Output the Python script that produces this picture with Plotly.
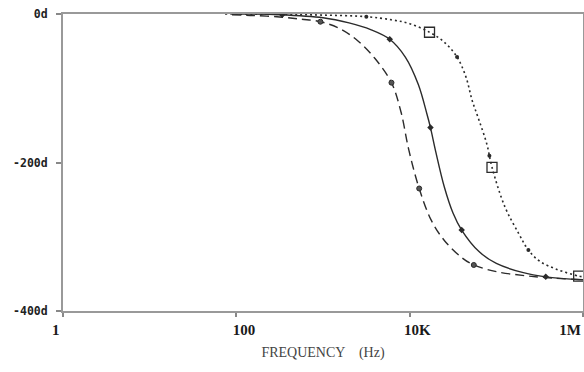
import numpy as np
import plotly.graph_objects as go

# ---- data (log10 of frequency in Hz, phase in degrees) ----
solid_logf = [1.95, 2.5, 3.0, 3.3, 3.55, 3.77, 3.95, 4.1, 4.2, 4.24, 4.3, 4.4, 4.5, 4.6, 4.8, 5.0, 5.3, 5.57, 6.0]
solid_deg = [0, -1, -5, -12, -21, -34, -58, -95, -135, -153, -185, -233, -268, -291, -320, -336, -348, -354, -358]

dashed_logf = [1.95, 2.2, 2.5, 2.75, 2.97, 3.2, 3.4, 3.6, 3.79, 3.9, 3.99, 4.11, 4.25, 4.4, 4.6, 4.74, 5.0, 5.3, 5.57, 6.0]
dashed_deg = [-1, -2, -4, -7, -10.4, -20, -36, -60, -92.5, -132, -183, -235, -278, -305, -328, -338, -347, -352, -355, -358]

dotted_logf = [1.87, 2.5, 3.0, 3.5, 3.8, 4.0, 4.229, 4.4, 4.547, 4.65, 4.72, 4.8, 4.89, 4.95, 5.1, 5.26, 5.37, 5.5, 5.7, 5.95, 6.0]
dotted_deg = [0, -0.5, -1.5, -3.6, -8, -13, -24.6, -38, -58, -85, -116, -143, -175, -206.5, -260, -296, -318, -333, -344, -353, -354]

solid_mark_logf = [2.53, 3.77, 4.24, 4.60, 5.57]
solid_mark_deg = [-1, -34, -153, -291, -354]
dashed_mark_logf = [2.97, 3.79, 4.11, 4.74]
dashed_mark_deg = [-10.4, -92.5, -235, -338]
dotted_mark_logf = [3.50, 4.547, 4.92, 5.37]
dotted_mark_deg = [-3.6, -58, -191, -318]
square_logf = [4.229, 4.95, 5.95]
square_deg = [-24.6, -206.5, -353]

NB = "\u00a0"
x_tickvals = [1, 100, 1e4, 1e6]
x_ticktext = [NB * 3 + "1", NB * 11 + "100", NB * 11 + "10K", "1M"]
y_tickvals = [0, -200, -400]
y_ticktext = ["0d", "-200d", "-400d"]

hz = lambda a: np.power(10.0, np.array(a))

LINE = "#2b2b2b"
fig = go.Figure()
fig.add_trace(go.Scatter(x=hz(solid_logf), y=solid_deg, mode="lines",
                         line=dict(color=LINE, width=1.4, shape="spline")))
fig.add_trace(go.Scatter(x=hz(dashed_logf), y=dashed_deg, mode="lines",
                         line=dict(color=LINE, width=1.4, dash="9px,5px", shape="spline")))
fig.add_trace(go.Scatter(x=hz(dotted_logf), y=dotted_deg, mode="lines",
                         line=dict(color=LINE, width=1.6, dash="2px,3px", shape="spline")))
fig.add_trace(go.Scatter(x=hz(solid_mark_logf), y=solid_mark_deg, mode="markers",
                         marker=dict(symbol="diamond", size=5, color=LINE)))
fig.add_trace(go.Scatter(x=hz(dashed_mark_logf), y=dashed_mark_deg, mode="markers",
                         marker=dict(symbol="circle", size=5, color="#555555",
                                     line=dict(color=LINE, width=1))))
fig.add_trace(go.Scatter(x=hz(dotted_mark_logf), y=dotted_mark_deg, mode="markers",
                         marker=dict(symbol="circle", size=4, color=LINE)))
fig.add_trace(go.Scatter(x=hz(square_logf), y=square_deg, mode="markers",
                         marker=dict(symbol="square-open", size=10, color=LINE,
                                     line=dict(color=LINE, width=1.3))))

fig.update_layout(
    width=584, height=372, autosize=False,
    margin=dict(l=63, r=1, t=14, b=61),
    paper_bgcolor="white", plot_bgcolor="white",
    showlegend=False,
)
fig.update_xaxes(
    type="log", range=[0, 6], automargin=False,
    tickvals=x_tickvals, ticktext=x_ticktext,
    ticks="outside", ticklen=4, tickcolor="#888888", tickwidth=1.5,
    showgrid=False, zeroline=False,
    showline=True, linecolor="#999999", linewidth=2, mirror=True,
    tickfont=dict(family="Liberation Serif", size=15, color="#1a1a1a", weight="bold"),
    ticklabelshift=-13,
    ticklabeloverflow="allow",
    title=dict(text=NB * 7 + "FREQUENCY    (Hz)", standoff=10,
               font=dict(family="Liberation Serif", size=14, color="#444444")),
)
fig.update_yaxes(
    range=[-400, 0], automargin=False,
    tickvals=y_tickvals, ticktext=y_ticktext,
    ticks="outside", ticklen=5, tickcolor="#888888", tickwidth=1.5,
    showgrid=False, zeroline=False,
    showline=True, linecolor="#999999", linewidth=2, mirror=True,
    tickfont=dict(family="DejaVu Sans Mono", size=11.5, color="#222222", weight="bold"),
    ticklabelstandoff=6,
    ticklabeloverflow="allow",
)
fig.write_html("out.html", config={"displayModeBar": False},
               post_script="document.body.style.margin='0';document.body.style.overflow='hidden';")
